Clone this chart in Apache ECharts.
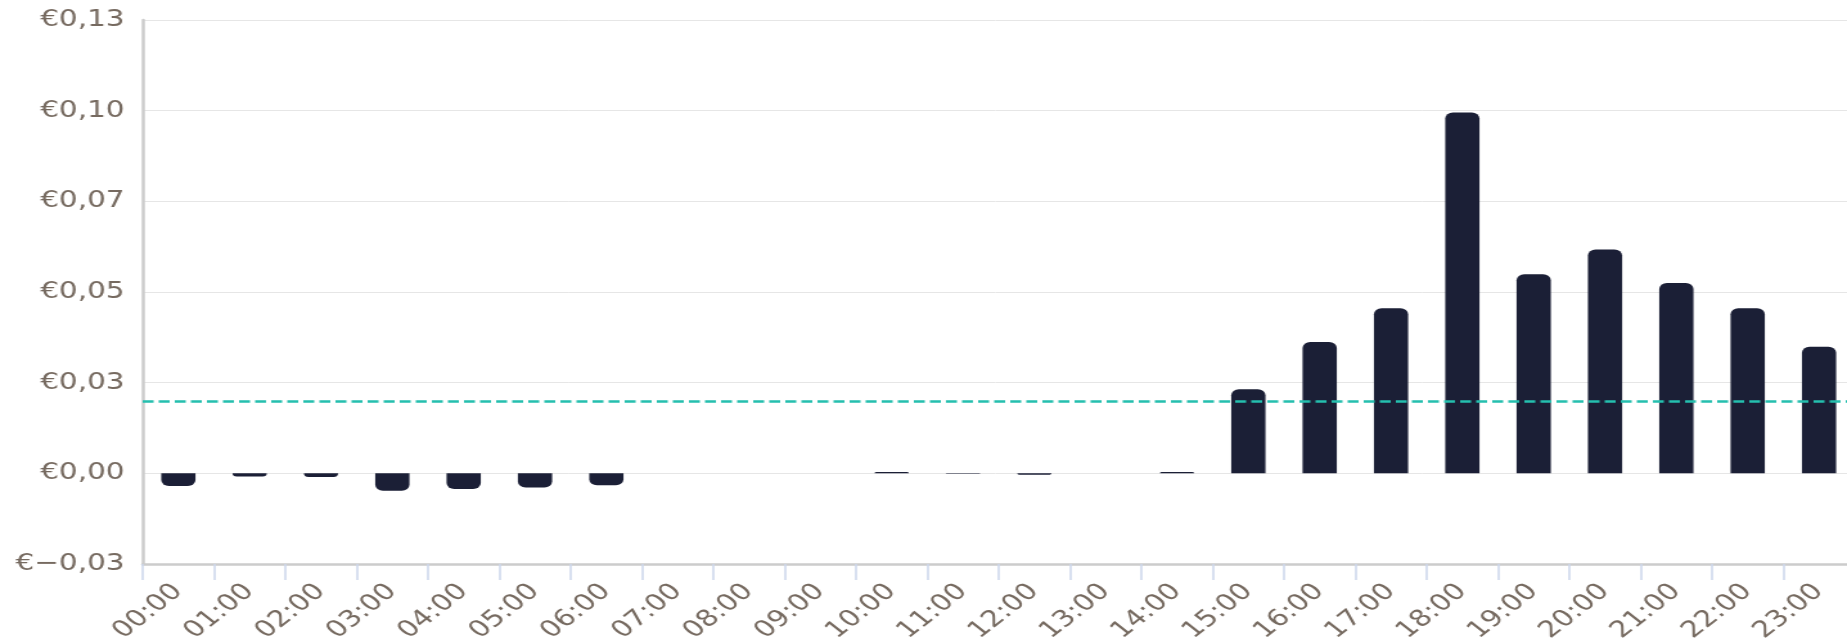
<!DOCTYPE html>
<html>
<head>
<meta charset="utf-8">
<script src="https://cdn.jsdelivr.net/npm/echarts@6/dist/echarts.min.js"></script>
<style>
html, body { margin: 0; padding: 0; background: #ffffff; overflow: hidden; }
#wrap { width: 1847px; height: 643px; overflow: hidden; }
#chart { width: 1437px; height: 643px; transform: scaleX(1.2853); transform-origin: 0 0; }
</style>
</head>
<body>
<div id="wrap"><div id="chart"></div></div>
<script>
// ---- data ----
const hours = ['00:00','01:00','02:00','03:00','04:00','05:00','06:00','07:00','08:00','09:00','10:00','11:00',
               '12:00','13:00','14:00','15:00','16:00','17:00','18:00','19:00','20:00','21:00','22:00','23:00'];
const costs = [-0.0035, -0.0009, -0.0010, -0.0048, -0.0043, -0.0039, -0.0033, 0, 0, 0, 0.0004, -0.0001,
               -0.0004, 0, 0.0004, 0.0232, 0.0362, 0.0455, 0.0995, 0.0549, 0.0617, 0.0525, 0.0455, 0.0349];
const yAxisMin = -0.025;
const yAxisMax = 0.125;
const yAxisStep = 0.025;

const barColor = '#1b1f36';
const textColor = '#766a60';
const fontFam = '"DejaVu Sans", Verdana, sans-serif';

function euro(v) {
  return '€' + (v < 0 ? '−' : '') + Math.abs(v).toFixed(2).replace('.', ',');
}

// average of the series (drawn as the dashed reference line)
const avgCost = costs.reduce(function (a, b) { return a + b; }, 0) / costs.length;

const barData = costs.map(function (v) {
  return {
    value: v,
    itemStyle: { borderRadius: v < 0 ? [0, 0, 6, 6] : [6, 6, 0, 0] }
  };
});

const chart = echarts.init(document.getElementById('chart'));
chart.setOption({
  animation: false,
  backgroundColor: '#ffffff',
  grid: {
    left: 111, top: 20, width: 1332, height: 544,
    containLabel: false, outerBoundsMode: 'none'
  },
  xAxis: {
    type: 'category',
    data: hours,
    axisLine: { show: true, onZero: false, lineStyle: { color: '#cccccc', width: 2.5 } },
    axisTick: { show: true, length: 16, lineStyle: { color: '#ccd6eb', width: 1.5 } },
    axisLabel: {
      interval: 0, rotate: 45, margin: 24,
      color: textColor, fontSize: 23, fontFamily: fontFam
    },
    splitLine: { show: false }
  },
  yAxis: {
    type: 'value',
    min: yAxisMin, max: yAxisMax, interval: yAxisStep,
    axisLine: { show: true, lineStyle: { color: '#cccccc', width: 2.5 } },
    axisTick: { show: false },
    axisLabel: {
      margin: 14, color: textColor, fontSize: 23, fontFamily: fontFam,
      formatter: euro
    },
    splitLine: { show: true, lineStyle: { color: '#e6e6e6', width: 1 } }
  },
  series: [{
    type: 'bar',
    data: barData,
    barWidth: '48%',
    itemStyle: { color: barColor },
    markLine: {
      silent: true,
      symbol: ['none', 'none'],
      label: { show: false },
      lineStyle: { color: '#25bfae', width: 2.5, type: [8.5, 4] },
      data: [{ yAxis: avgCost }]
    }
  }]
});
</script>
</body>
</html>
